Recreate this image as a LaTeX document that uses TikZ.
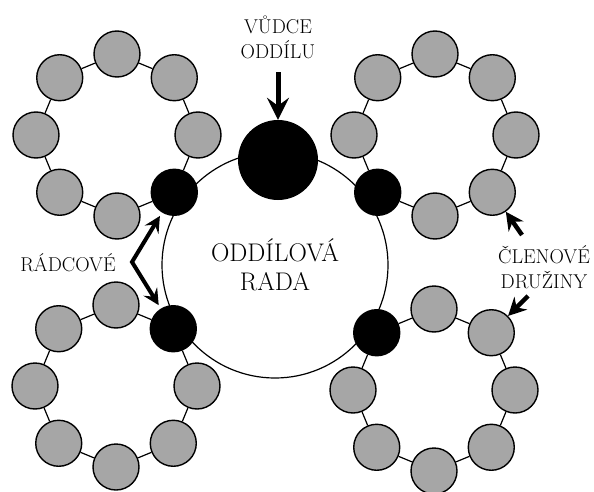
\documentclass[tikz,border=0pt]{standalone}
\usetikzlibrary{arrows.meta}
\definecolor{memberfill}{HTML}{A6A6A6}

% one patrol: name, centre, angle of the patrol leader
\newcommand\druzina[3]{
  \begin{scope}[shift={#2}]
    \foreach \a [count=\i] in {-90,-45,0,45,90,135,180,225}
    {
      \ifnum\a=#3 \node[leader] (#1\i) at (\a:81) {};
      \else \node[member] (#1\i) at (\a:81) {}; \fi
    }
    \foreach \i [remember=\i as \j (initially 8)] in {1,...,8}
      \draw[link] (#1\j) -- (#1\i);
  \end{scope}
}

\begin{document}
\begin{tikzpicture}[x=1pt,y=-1pt,line join=miter,
  member/.style={circle,draw,line width=1.4pt,fill=memberfill,minimum size=46pt,inner sep=0pt},
  leader/.style={circle,draw,line width=1.4pt,fill=black,minimum size=46pt,inner sep=0pt},
  link/.style={line width=1.2pt},
  pointer/.style={line width=4.5pt,-{Stealth[length=18pt,width=18pt,inset=6pt]}},
  labeltext/.style={font=\fontsize{20}{25}\selectfont,align=center}]
\useasboundingbox (0,0) rectangle (594,492);

% Troop council
\node[circle,draw,line width=1.2pt,minimum size=226pt,align=center,
  font=\fontsize{25.5}{29}\selectfont] (rada) at (275,265) {ODDÍLOVÁ\\RADA};

% Troop leader
\node[circle,fill=black,minimum size=80pt,inner sep=0pt] (vudce) at (278,160) {};

% Patrols
\druzina{tl}{(117,135)}{45}
\druzina{tr}{(435,135)}{135}
\druzina{bl}{(116,386)}{-45}
\druzina{br}{(434,390)}{225}

% Labels
\node[labeltext] (vudceText) at (278,37) {VŮDCE\\ODDÍLU};
\draw[pointer,line width=5pt,-{Stealth[length=22pt,width=22pt,inset=8pt]},shorten <=10pt] (vudceText) -- (vudce);

\node[labeltext] (radcoveText) at (68,263) {RÁDCOVÉ};
\coordinate (radcoveV) at (132,262);
\draw[line width=4pt,{Stealth[length=16pt,width=16pt,inset=6pt]}-{Stealth[length=16pt,width=16pt,inset=6pt]},
  shorten <=4pt,shorten >=4pt] (tl4) -- (radcoveV) -- (bl2);

\node[labeltext] (clenoveText) at (544,267) {ČLENOVÉ\\DRUŽINY};
\coordinate (clenoveA) at (522,235);
\coordinate (clenoveB) at (528,296);
\draw[pointer] (clenoveA) -- (tr4);
\draw[pointer] (clenoveB) -- (br2);

\end{tikzpicture}
\end{document}
